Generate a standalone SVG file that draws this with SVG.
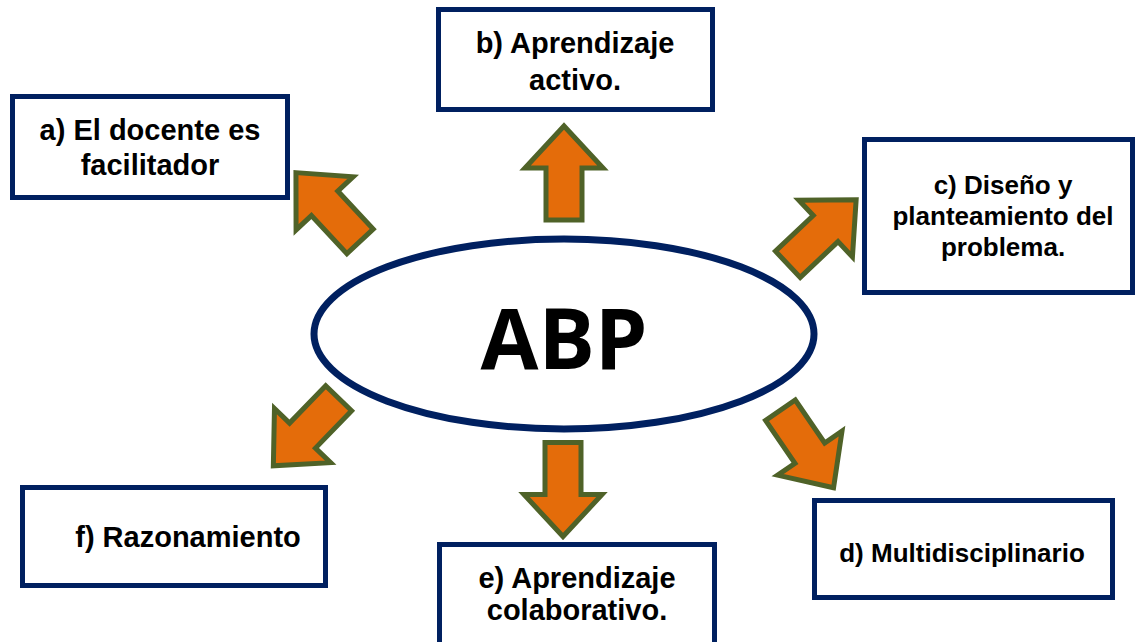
<svg xmlns="http://www.w3.org/2000/svg" width="1135" height="642" viewBox="0 0 1135 642">
  <style>
    .box { fill: #ffffff; stroke: #002060; stroke-width: 5; }
    .lbl { font-family: "Liberation Sans", Arial, sans-serif; font-weight: bold; fill: #000000; text-anchor: middle; }
    .big { font-size: 29px; }
    .mid { font-size: 26px; }
    .arrow { fill: #E46C0A; stroke: #4F6228; stroke-width: 5; stroke-linejoin: miter; }
  </style>
  <defs>
    <!-- block arrow pointing up, centred on the origin -->
    <path id="blockArrow" d="M0,-47 L39,-5 L18,-5 L18,47 L-18,47 L-18,-5 L-39,-5 Z"/>
  </defs>

  <rect width="1135" height="642" fill="#ffffff"/>

  <!-- arrows radiating from the central ellipse -->
  <g id="connectors" class="arrow">
    <use href="#blockArrow" transform="translate(564,173)"/>
    <use href="#blockArrow" transform="translate(563,489.5) rotate(180)"/>
    <use href="#blockArrow" transform="translate(328,207) rotate(-43)"/>
    <use href="#blockArrow" transform="translate(822,232) rotate(46.6)"/>
    <use href="#blockArrow" transform="translate(306,432) rotate(-136)"/>
    <use href="#blockArrow" transform="translate(807,449) rotate(145.6)"/>
  </g>

  <g id="abp">
    <ellipse cx="564" cy="334" rx="250" ry="95" fill="#ffffff" stroke="#002060" stroke-width="7"/>
    <text x="564" y="369" font-family="'Open Sans', 'DejaVu Sans', sans-serif" font-weight="bold" font-size="84" text-anchor="middle" fill="#000000">ABP</text>
  </g>

  <g id="node-a">
    <rect class="box" x="12.5" y="96.5" width="275" height="101"/>
    <text class="lbl big" x="150" y="140">a) El docente es</text>
    <text class="lbl big" x="150" y="175">facilitador</text>
  </g>

  <g id="node-b">
    <rect class="box" x="438.5" y="9.5" width="274" height="100"/>
    <text class="lbl big" x="575" y="53">b) Aprendizaje</text>
    <text class="lbl big" x="575" y="90">activo.</text>
  </g>

  <g id="node-c">
    <rect class="box" x="864.5" y="139.5" width="268" height="153"/>
    <text class="lbl mid" x="1003" y="194">c) Diseño y</text>
    <text class="lbl mid" x="1003" y="225">planteamiento del</text>
    <text class="lbl mid" x="1003" y="256">problema.</text>
  </g>

  <g id="node-d">
    <rect class="box" x="814.5" y="500.5" width="298" height="97"/>
    <text class="lbl mid" x="962" y="562">d) Multidisciplinario</text>
  </g>

  <g id="node-e">
    <rect class="box" x="439.5" y="544.5" width="275" height="110"/>
    <text class="lbl big" x="577" y="588">e) Aprendizaje</text>
    <text class="lbl big" x="577" y="620">colaborativo.</text>
  </g>

  <g id="node-f">
    <rect class="box" x="22.5" y="487.5" width="303" height="98"/>
    <text class="lbl big" x="188" y="547">f) Razonamiento</text>
  </g>
</svg>
